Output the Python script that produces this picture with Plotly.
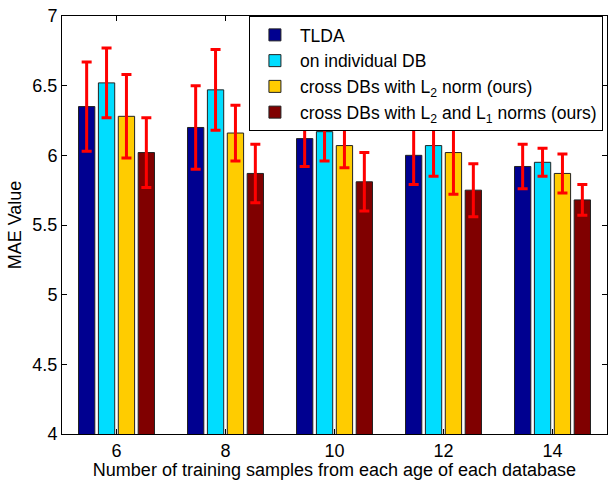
import plotly.graph_objects as go

samples = [6, 8, 10, 12, 14]
series_names = [
    "TLDA",
    "on individual DB",
    "cross DBs with L<sub>2</sub> norm (ours)",
    "cross DBs with L<sub>2</sub> and L<sub>1</sub> norms (ours)",
]
tlda = [6.35, 6.20, 6.12, 6.00, 5.92]
tlda_err = [0.32, 0.30, 0.20, 0.21, 0.16]
indiv = [6.52, 6.47, 6.17, 6.07, 5.95]
indiv_err = [0.25, 0.29, 0.21, 0.22, 0.10]
l2 = [6.28, 6.16, 6.07, 6.02, 5.87]
l2_err = [0.30, 0.20, 0.16, 0.30, 0.14]
l2l1 = [6.02, 5.87, 5.81, 5.75, 5.68]
l2l1_err = [0.25, 0.21, 0.21, 0.19, 0.11]
colors = ["#000090", "#00DDFF", "#FFCC00", "#800000"]
y_ticks = [4, 4.5, 5, 5.5, 6, 6.5, 7]
y_ticklabels = ["4", "4.5", "5", "5.5", "6", "6.5", "7"]

font = "Liberation Sans, Arial, Helvetica, sans-serif"

fig = go.Figure()
for name, vals, errs, col in zip(series_names, [tlda, indiv, l2, l2l1],
                                 [tlda_err, indiv_err, l2_err, l2l1_err], colors):
    fig.add_trace(go.Bar(
        x=samples, y=vals, name=name,
        marker=dict(color=col, line=dict(color="#222222", width=1)),
        error_y=dict(type="data", array=errs, visible=True,
                     color="#FF0000", thickness=3, width=5),
    ))

fig.update_layout(
    width=614, height=480,
    margin=dict(l=62, r=6, t=14, b=45),
    paper_bgcolor="white", plot_bgcolor="white",
    barmode="group", bargap=0.27, bargroupgap=0.18,
    font=dict(family=font, size=18, color="black"),
    showlegend=True,
    legend=dict(x=0.343, y=1.0, xanchor="left", yanchor="top",
                bgcolor="white", bordercolor="black", borderwidth=1,
                font=dict(size=17.5), tracegroupgap=0, itemwidth=40),
    xaxis=dict(range=[5, 15], tickvals=samples, ticktext=[str(s) for s in samples],
               showline=True, linecolor="black", linewidth=1, mirror="ticks",
               ticks="inside", ticklen=5, tickcolor="black", showgrid=False,
               zeroline=False, tickfont=dict(size=18),
               title=dict(text="Number of training samples from each age of each database",
                          font=dict(size=18), standoff=1)),
    yaxis=dict(range=[4, 7], tickvals=y_ticks, ticktext=y_ticklabels,
               showline=True, linecolor="black", linewidth=1, mirror="ticks",
               ticks="inside", ticklen=5, tickcolor="black", showgrid=False,
               zeroline=False, tickfont=dict(size=18),
               title=dict(text="MAE Value", font=dict(size=18), standoff=6)),
)

fig.write_html("out.html")
